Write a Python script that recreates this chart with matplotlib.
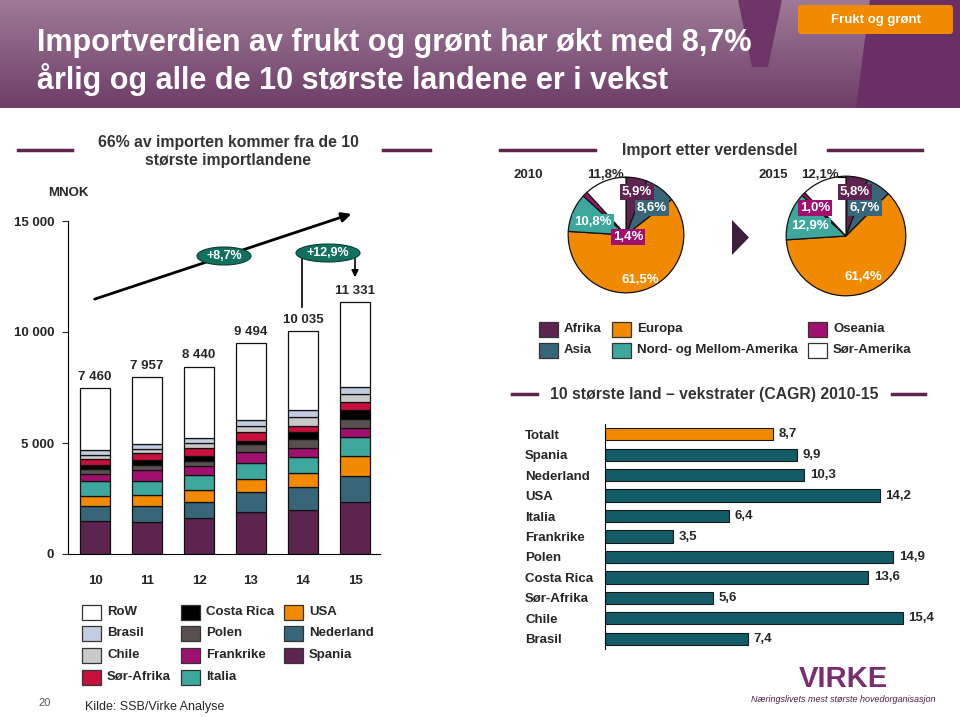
import numpy as np
import matplotlib.pyplot as plt
from matplotlib.patches import Ellipse, Polygon, FancyBboxPatch, Rectangle

plt.rcParams['font.family'] = ['Liberation Sans', 'DejaVu Sans']

W, H = 960, 717

# --- data: stacked import bars (MNOK) ---
years = ['10', '11', '12', '13', '14', '15']
totals = [7460, 7957, 8440, 9494, 10035, 11331]
spania = [1485, 1424, 1621, 1894, 1970, 2348]
nederland = [667, 727, 712, 894, 1061, 1167]
usa = [455, 485, 530, 606, 606, 879]
italia = [682, 652, 697, 727, 742, 894]
frankrike = [318, 500, 409, 455, 409, 409]
polen = [212, 227, 227, 364, 394, 364]
costa_rica = [180, 212, 227, 152, 303, 424]
sor_afrika = [300, 303, 333, 394, 303, 348]
chile = [180, 197, 227, 273, 364, 364]
brasil = [227, 212, 258, 273, 333, 333]

# --- data: pies ---
regions = ['Afrika', 'Asia', 'Europa', 'Nord- og Mellom-Amerika', 'Oseania', 'Sør-Amerika']
share_2010 = [5.9, 8.6, 61.5, 10.8, 1.4, 11.8]
share_2015 = [5.8, 6.7, 61.4, 12.9, 1.0, 12.1]

# --- data: CAGR ---
land = ['Totalt', 'Spania', 'Nederland', 'USA', 'Italia', 'Frankrike', 'Polen',
        'Costa Rica', 'Sør-Afrika', 'Chile', 'Brasil']
cagr = [8.7, 9.9, 10.3, 14.2, 6.4, 3.5, 14.9, 13.6, 5.6, 15.4, 7.4]

PURPLE = '#5e2450'
SLATE = '#386678'
ORANGE = '#f28a00'
TEAL = '#3ea79d'
MAGENTA = '#a0106e'
TXT = '#262626'

fig = plt.figure(figsize=(9.6, 7.17), dpi=100)


def px_axes(x0, y0, x1, y1, **kw):
    return fig.add_axes([x0 / W, 1 - y1 / H, (x1 - x0) / W, (y1 - y0) / H], **kw)


# header band
hd = px_axes(0, 0, W, 108, zorder=-1)
grad = np.linspace(0, 1, 100)[:, None] * np.ones((1, 10))
top = np.array([0.62, 0.48, 0.59])
bot = np.array([0.43, 0.24, 0.41])
img = top[None, None, :] * (1 - grad[..., None]) + bot[None, None, :] * grad[..., None]
hd.imshow(img, extent=[0, W, 108, 0], aspect='auto')
hd.add_patch(Polygon([(870, 0), (W, 0), (W, 108), (856, 108)], color='#6a2f65', lw=0))
hd.add_patch(Polygon([(738, 0), (782, 0), (768, 67), (752, 67)], color='#6e3569', lw=0))
hd.set_xlim(0, W)
hd.set_ylim(108, 0)
hd.axis('off')

# overlay axes in pixel coordinates
ov = fig.add_axes([0, 0, 1, 1], zorder=10)
ov.set_xlim(0, W)
ov.set_ylim(H, 0)
ov.axis('off')
ov.patch.set_alpha(0)

ov.text(37, 43, 'Importverdien av frukt og grønt har økt med 8,7%', color='white',
        fontsize=22, fontweight='bold', va='center')
ov.text(37, 79, 'årlig og alle de 10 største landene er i vekst', color='white',
        fontsize=22, fontweight='bold', va='center')
ov.add_patch(FancyBboxPatch((798, 5), 155, 29, boxstyle='round,pad=0,rounding_size=3',
                            fc=ORANGE, ec='none'))
ov.text(876, 20, 'Frukt og grønt', color='white', fontsize=9.5, fontweight='bold',
        ha='center', va='center')

# section headings
HS = 11.3
ov.text(228, 142, '66% av importen kommer fra de 10', ha='center', va='center',
        fontsize=HS, fontweight='bold', color='#333333')
ov.text(228, 160, 'største importlandene', ha='center', va='center',
        fontsize=HS, fontweight='bold', color='#333333')
ov.plot([18, 72], [150, 150], color=PURPLE, lw=2.5)
ov.plot([383, 430], [150, 150], color=PURPLE, lw=2.5)

ov.text(710, 150, 'Import etter verdensdel', ha='center', va='center',
        fontsize=HS, fontweight='bold', color='#333333')
ov.plot([500, 595], [150, 150], color=PURPLE, lw=2.5)
ov.plot([828, 922], [150, 150], color=PURPLE, lw=2.5)

ov.text(714, 394, '10 største land \u2013 vekstrater (CAGR) 2010-15', ha='center', va='center',
        fontsize=HS, fontweight='bold', color='#333333')
ov.plot([512, 537], [394, 394], color=PURPLE, lw=2.5)
ov.plot([892, 925], [394, 394], color=PURPLE, lw=2.5)

# ---------------- stacked bar chart ----------------
ax = px_axes(68, 221, 380, 554)
ax.patch.set_alpha(0)
x = np.arange(len(years))
series = [('Spania', spania, PURPLE), ('Nederland', nederland, SLATE), ('USA', usa, ORANGE),
          ('Italia', italia, TEAL), ('Frankrike', frankrike, MAGENTA), ('Polen', polen, '#5a4f4f'),
          ('Costa Rica', costa_rica, '#000000'), ('Sør-Afrika', sor_afrika, '#c8103c'),
          ('Chile', chile, '#c9c9c9'), ('Brasil', brasil, '#c2cde2')]
bottom = np.zeros(len(years))
for name, vals, col in series:
    ax.bar(x, vals, 0.56, bottom=bottom, color=col, edgecolor='#111111', lw=0.9)
    bottom += np.array(vals)
row = np.array(totals) - bottom
ax.bar(x, row, 0.56, bottom=bottom, color='white', edgecolor='#111111', lw=0.9)
for xi, t in zip(x, totals):
    ax.annotate(f'{t:,}'.replace(',', ' '), (xi, t), xytext=(0, 4), textcoords='offset points',
                ha='center', va='bottom', fontsize=9.5, fontweight='bold', color=TXT)
ax.set_xlim(-0.52, 5.48)
ax.set_ylim(0, 15000)
ax.set_yticks([0, 5000, 10000, 15000], ['0', '5 000', '10 000', '15 000'])
ax.set_xticks(x, years)
ax.tick_params(axis='y', length=4, pad=6, labelsize=9.5, colors=TXT)
ax.tick_params(axis='x', length=0, pad=15, labelsize=9.5, colors=TXT)
for lab in ax.get_xticklabels() + ax.get_yticklabels():
    lab.set_fontweight('bold')
ax.spines['top'].set_visible(False)
ax.spines['right'].set_visible(False)
ov.text(48, 193, 'MNOK', va='center', fontsize=9.5, fontweight='bold', color=TXT)

# growth arrow and ellipses
ov.annotate('', xy=(354, 213), xytext=(92, 300),
            arrowprops=dict(arrowstyle='-|>', color='black', lw=2, mutation_scale=14))
ov.add_patch(Ellipse((224, 256), 54, 18, fc='#12705f', ec='#0a3d35', lw=0.8, zorder=5))
ov.text(224, 256, '+8,7%', color='white', fontsize=9, fontweight='bold',
        ha='center', va='center', zorder=6)
ov.plot([302, 302], [256, 307], color='black', lw=1.2)
ov.annotate('', xy=(355, 280), xytext=(355, 256),
            arrowprops=dict(arrowstyle='-|>', color='black', lw=1.2, mutation_scale=10))
ov.add_patch(Ellipse((328, 253), 64, 18, fc='#12705f', ec='#0a3d35', lw=0.8, zorder=5))
ov.text(328, 253, '+12,9%', color='white', fontsize=9, fontweight='bold',
        ha='center', va='center', zorder=6)

# bar legend
leg_names = ['RoW', 'Brasil', 'Chile', 'Sør-Afrika', 'Costa Rica', 'Polen', 'Frankrike',
             'Italia', 'USA', 'Nederland', 'Spania']
leg_cols = ['white', '#c2cde2', '#c9c9c9', '#c8103c', '#000000', '#5a4f4f', MAGENTA,
            TEAL, ORANGE, SLATE, PURPLE]
col_x = [82, 181, 284]
row_y = [612, 633, 655, 677]
for i, (nm, c) in enumerate(zip(leg_names, leg_cols)):
    cx = col_x[i // 4]
    cy = row_y[i % 4]
    ov.add_patch(Rectangle((cx, cy - 7.5), 19, 15, fc=c, ec='#333333', lw=0.9))
    ov.text(cx + 25, cy, nm, va='center', fontsize=9.5, fontweight='bold', color=TXT)

ov.text(85, 707, 'Kilde: SSB/Virke Analyse', va='center', fontsize=9, color=TXT)
ov.text(38, 703, '20', va='center', fontsize=8, color='#555555')

# ---------------- pies ----------------
pie_cols = [PURPLE, SLATE, ORANGE, TEAL, MAGENTA, 'white']
for (cx, cy, r), shares in [((626, 235, 58), share_2010), ((846, 236, 60), share_2015)]:
    pa = px_axes(cx - r - 1, cy - r - 1, cx + r + 1, cy + r + 1)
    pa.pie(shares, colors=pie_cols, startangle=90, counterclock=False, radius=1,
           wedgeprops=dict(edgecolor='#111111', lw=0.9))
    pa.set_xlim(-1.02, 1.02)
    pa.set_ylim(-1.02, 1.02)
    pa.set_aspect('equal')


def box(xp, yp, s, c):
    ov.text(xp, yp, s, ha='center', va='center', color='white', fontsize=9.5, fontweight='bold',
            bbox=dict(boxstyle='square,pad=0.15', fc=c, ec='none'))


ov.text(528, 175, '2010', ha='center', va='center', fontsize=9.5, fontweight='bold', color=TXT)
ov.text(605, 175, '11,8%', ha='center', va='center', fontsize=9.5, fontweight='bold', color=TXT)
ov.plot([623, 628], [177, 177], color='black', lw=0.8)
box(637, 192, '5,9%', PURPLE)
box(652, 208, '8,6%', SLATE)
box(593, 222, '10,8%', TEAL)
box(628, 237, '1,4%', MAGENTA)
ov.text(640, 280, '61,5%', ha='center', va='center', fontsize=9.5, fontweight='bold', color='white')

ov.text(773, 175, '2015', ha='center', va='center', fontsize=9.5, fontweight='bold', color=TXT)
ov.text(820, 175, '12,1%', ha='center', va='center', fontsize=9.5, fontweight='bold', color=TXT)
ov.plot([838, 846], [177, 177], color='black', lw=0.8)
box(855, 192, '5,8%', PURPLE)
box(865, 208, '6,7%', SLATE)
box(815, 208, '1,0%', MAGENTA)
box(810, 226, '12,9%', TEAL)
ov.text(863, 277, '61,4%', ha='center', va='center', fontsize=9.5, fontweight='bold', color='white')

ov.add_patch(Polygon([(732, 220), (749, 237.5), (732, 255)], color='#3f1d3d', lw=0))

# pie legend
pl_x = [539, 539, 612, 612, 808, 808]
pl_y = [329, 350, 329, 350, 329, 350]
for i in range(len(regions)):
    ov.add_patch(Rectangle((pl_x[i], pl_y[i] - 7.5), 19, 15, fc=pie_cols[i], ec='#333333', lw=0.9))
    ov.text(pl_x[i] + 25, pl_y[i], regions[i], va='center', fontsize=9.5, fontweight='bold', color=TXT)

# ---------------- CAGR bars ----------------
bx = px_axes(605, 424, 940, 649)
bx.patch.set_alpha(0)
ypos = np.arange(len(land))
bcols = [ORANGE] + ['#135b66'] * (len(land) - 1)
bars = bx.barh(ypos, cagr, 0.6, color=bcols, edgecolor='#1a1a1a', lw=0.8)
bx.bar_label(bars, labels=[f'{v:.1f}'.replace('.', ',') for v in cagr], padding=4,
             fontsize=9.5, fontweight='bold', color=TXT)
bx.set_xlim(0, 335 / 19.35)
bx.set_ylim(10.5, -0.5)
bx.set_yticks(ypos, land)
bx.set_xticks([])
bx.tick_params(axis='y', length=0, pad=57.6, labelsize=9.5, colors=TXT)
for lab in bx.get_yticklabels():
    lab.set_ha('left')
    lab.set_fontweight('bold')
for s in ['top', 'right', 'bottom']:
    bx.spines[s].set_visible(False)

# logo
ov.text(843, 679, 'VIRKE', ha='center', va='center', fontsize=21, fontweight='bold', color='#7b2d72')
ov.text(843, 700, 'Næringslivets mest største hovedorganisasjon', ha='center', va='center',
        fontsize=6.5, style='italic', color='#4a1f45')

fig.savefig('out.png', dpi=100)
